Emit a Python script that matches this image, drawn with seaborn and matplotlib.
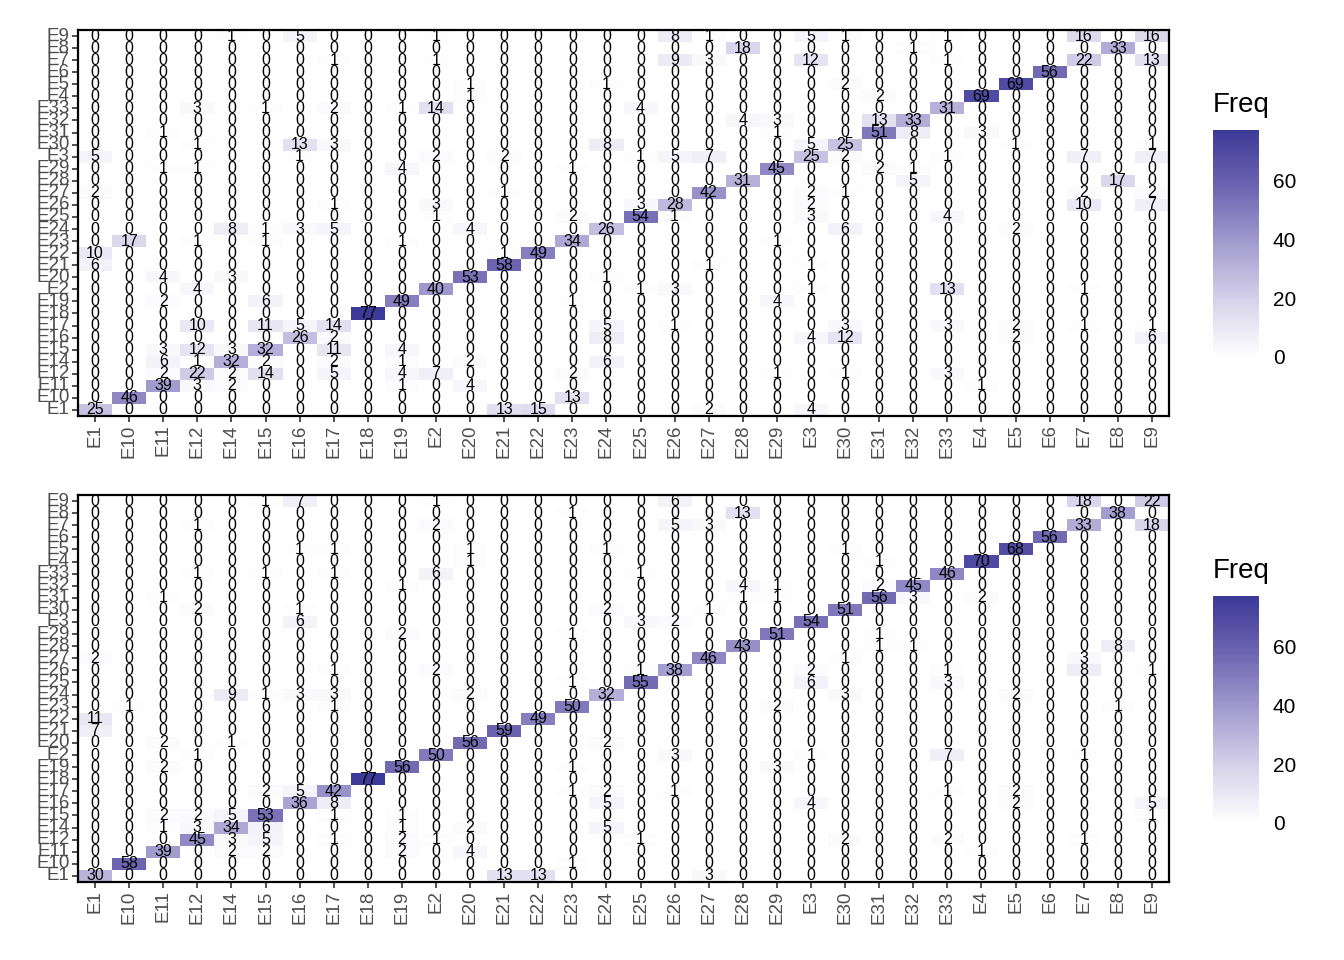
import numpy as np
import pandas as pd
import seaborn as sns
import matplotlib.pyplot as plt
from matplotlib.colors import LinearSegmentedColormap

# class labels, in the order they appear on the x axis
labels = ["E1", "E10", "E11", "E12", "E14", "E15", "E16", "E17", "E18", "E19",
          "E2", "E20", "E21", "E22", "E23", "E24", "E25", "E26", "E27", "E28",
          "E29", "E3", "E30", "E31", "E32", "E33", "E4", "E5", "E6", "E7",
          "E8", "E9"]
# rows are drawn top -> bottom (E9 at the top, E1 at the bottom)
row_labels = labels[::-1]

# top panel, one list per row (top -> bottom), columns E1 ... E9
top_counts = [
    [0, 0, 0, 0, 1, 0, 5, 0, 0, 0, 1, 0, 0, 0, 0, 0, 0, 8, 1, 0, 0, 5, 1, 0, 0, 1, 0, 0, 0, 16, 0, 16],
    [0, 0, 0, 0, 0, 0, 0, 0, 0, 0, 0, 0, 0, 0, 0, 0, 0, 0, 0, 18, 0, 0, 0, 0, 1, 0, 0, 0, 0, 0, 33, 0],
    [0, 0, 0, 0, 0, 0, 0, 1, 0, 0, 1, 0, 0, 0, 0, 0, 0, 9, 3, 0, 0, 12, 0, 0, 0, 1, 0, 0, 0, 22, 0, 13],
    [0, 0, 0, 0, 0, 0, 0, 0, 0, 0, 0, 0, 0, 0, 0, 0, 0, 0, 0, 0, 0, 0, 0, 0, 0, 0, 0, 0, 56, 0, 0, 0],
    [0, 0, 0, 0, 0, 0, 0, 0, 0, 0, 0, 1, 0, 0, 0, 1, 0, 0, 0, 0, 0, 0, 2, 0, 0, 0, 0, 69, 0, 0, 0, 0],
    [0, 0, 0, 0, 0, 0, 0, 0, 0, 0, 0, 1, 0, 0, 0, 0, 0, 0, 0, 0, 0, 0, 0, 2, 0, 0, 69, 0, 0, 0, 0, 0],
    [0, 0, 0, 3, 0, 1, 0, 2, 0, 1, 14, 0, 0, 0, 0, 0, 4, 0, 0, 0, 0, 0, 0, 0, 0, 31, 0, 0, 0, 0, 0, 0],
    [0, 0, 0, 0, 0, 0, 0, 0, 0, 0, 0, 0, 0, 0, 0, 0, 0, 0, 0, 4, 3, 0, 0, 13, 33, 0, 0, 0, 0, 0, 0, 0],
    [0, 0, 1, 0, 0, 0, 0, 0, 0, 0, 0, 0, 0, 0, 0, 0, 0, 0, 0, 0, 1, 0, 0, 51, 8, 0, 3, 0, 0, 0, 0, 0],
    [0, 0, 0, 1, 0, 0, 13, 3, 0, 0, 0, 0, 0, 0, 0, 8, 0, 0, 0, 0, 0, 5, 25, 0, 0, 0, 0, 1, 0, 0, 0, 1],
    [5, 0, 0, 0, 0, 0, 1, 0, 0, 0, 2, 0, 2, 0, 0, 0, 1, 5, 7, 0, 0, 25, 2, 0, 0, 1, 0, 0, 0, 7, 0, 7],
    [0, 0, 1, 1, 0, 0, 0, 0, 0, 4, 0, 0, 0, 0, 1, 0, 0, 0, 0, 0, 45, 0, 0, 2, 1, 0, 0, 0, 0, 0, 0, 0],
    [0, 0, 0, 0, 0, 0, 0, 0, 0, 0, 0, 0, 0, 0, 0, 0, 0, 0, 0, 31, 0, 0, 0, 0, 5, 0, 0, 0, 0, 0, 17, 0],
    [2, 0, 0, 0, 0, 0, 0, 0, 0, 0, 0, 0, 1, 0, 0, 0, 0, 0, 42, 0, 0, 2, 1, 0, 0, 0, 0, 0, 0, 2, 0, 2],
    [0, 0, 0, 0, 0, 0, 0, 1, 0, 0, 3, 0, 0, 0, 0, 0, 3, 28, 0, 0, 0, 2, 0, 0, 0, 0, 0, 0, 0, 10, 0, 7],
    [0, 0, 0, 0, 0, 0, 0, 0, 0, 0, 1, 0, 0, 0, 2, 0, 54, 1, 0, 0, 0, 3, 0, 0, 0, 4, 0, 0, 0, 0, 0, 0],
    [0, 0, 0, 0, 8, 1, 3, 5, 0, 0, 0, 4, 0, 0, 0, 26, 0, 0, 0, 0, 0, 0, 6, 0, 0, 0, 0, 2, 0, 0, 0, 0],
    [0, 17, 0, 1, 0, 1, 0, 0, 0, 1, 0, 0, 0, 0, 34, 0, 0, 0, 0, 0, 1, 0, 0, 0, 0, 0, 0, 0, 0, 0, 0, 0],
    [10, 0, 0, 0, 0, 0, 0, 0, 0, 0, 0, 0, 1, 49, 0, 0, 0, 0, 0, 0, 0, 0, 0, 0, 0, 0, 0, 0, 0, 0, 0, 0],
    [6, 0, 0, 0, 0, 0, 0, 0, 0, 0, 0, 0, 58, 0, 0, 0, 0, 0, 1, 0, 0, 1, 0, 0, 0, 0, 0, 0, 0, 0, 0, 0],
    [0, 0, 4, 0, 3, 0, 0, 0, 0, 0, 0, 53, 0, 0, 0, 1, 0, 0, 0, 0, 0, 0, 0, 0, 0, 0, 0, 0, 0, 0, 0, 0],
    [0, 0, 0, 4, 0, 0, 0, 0, 0, 0, 40, 0, 0, 0, 0, 0, 1, 3, 0, 0, 0, 1, 0, 0, 0, 13, 0, 0, 0, 1, 0, 0],
    [0, 0, 2, 0, 0, 6, 0, 0, 0, 49, 0, 0, 0, 0, 1, 0, 0, 0, 0, 0, 4, 0, 0, 0, 0, 0, 0, 0, 0, 0, 0, 0],
    [0, 0, 0, 0, 0, 0, 0, 0, 77, 0, 0, 0, 0, 0, 0, 0, 0, 0, 0, 0, 0, 0, 0, 0, 0, 0, 0, 0, 0, 0, 0, 0],
    [0, 0, 0, 10, 0, 11, 5, 14, 0, 0, 0, 0, 0, 0, 0, 5, 0, 1, 0, 0, 0, 0, 3, 0, 0, 3, 0, 2, 0, 1, 0, 1],
    [0, 0, 0, 0, 0, 0, 26, 2, 0, 0, 0, 0, 0, 0, 0, 8, 0, 0, 0, 0, 0, 4, 12, 0, 0, 0, 0, 2, 0, 0, 0, 6],
    [0, 0, 3, 12, 3, 32, 0, 11, 0, 4, 0, 0, 0, 0, 0, 0, 0, 0, 0, 0, 0, 0, 0, 0, 0, 0, 0, 0, 0, 0, 0, 0],
    [0, 0, 6, 1, 32, 2, 0, 2, 0, 1, 0, 2, 0, 0, 0, 6, 0, 0, 0, 0, 0, 0, 0, 0, 0, 0, 0, 0, 0, 0, 0, 0],
    [0, 0, 2, 22, 2, 14, 0, 5, 0, 4, 7, 0, 0, 0, 2, 0, 0, 0, 0, 0, 1, 0, 1, 0, 0, 3, 0, 0, 0, 0, 0, 0],
    [0, 0, 39, 3, 2, 0, 0, 0, 0, 1, 0, 4, 0, 0, 0, 0, 0, 0, 0, 0, 0, 0, 0, 0, 0, 0, 1, 0, 0, 0, 0, 0],
    [0, 46, 0, 0, 0, 0, 0, 0, 0, 0, 0, 0, 0, 0, 13, 0, 0, 0, 0, 0, 0, 0, 0, 0, 0, 0, 0, 0, 0, 0, 0, 0],
    [25, 0, 0, 0, 0, 0, 0, 0, 0, 0, 0, 0, 13, 15, 0, 0, 0, 0, 2, 0, 0, 4, 0, 0, 0, 0, 0, 0, 0, 0, 0, 0],
]

# bottom panel
bottom_counts = [
    [0, 0, 0, 0, 0, 1, 7, 0, 0, 0, 1, 0, 0, 0, 0, 0, 0, 6, 0, 0, 0, 0, 0, 0, 0, 0, 0, 0, 0, 18, 0, 22],
    [0, 0, 0, 0, 0, 0, 0, 0, 0, 0, 0, 0, 0, 0, 1, 0, 0, 0, 0, 13, 0, 0, 0, 0, 0, 0, 0, 0, 0, 0, 38, 0],
    [0, 0, 0, 1, 0, 0, 0, 0, 0, 0, 2, 0, 0, 0, 0, 0, 0, 5, 3, 0, 0, 0, 0, 0, 0, 0, 0, 0, 0, 33, 0, 18],
    [0, 0, 0, 0, 0, 0, 0, 0, 0, 0, 0, 0, 0, 0, 0, 0, 0, 0, 0, 0, 0, 0, 0, 0, 0, 0, 0, 0, 56, 0, 0, 0],
    [0, 0, 0, 0, 0, 0, 1, 1, 0, 0, 0, 1, 0, 0, 0, 1, 0, 0, 0, 0, 0, 0, 1, 0, 0, 0, 0, 68, 0, 0, 0, 0],
    [0, 0, 0, 0, 0, 0, 0, 0, 0, 0, 0, 1, 0, 0, 0, 0, 0, 0, 0, 0, 0, 0, 0, 1, 0, 0, 70, 0, 0, 0, 0, 0],
    [0, 0, 0, 1, 0, 1, 0, 1, 0, 0, 6, 0, 0, 0, 0, 0, 1, 0, 0, 0, 0, 0, 0, 0, 0, 46, 0, 0, 0, 0, 0, 0],
    [0, 0, 0, 0, 0, 0, 0, 0, 0, 1, 0, 0, 0, 0, 0, 0, 0, 0, 0, 4, 1, 0, 0, 2, 45, 0, 0, 0, 0, 0, 0, 0],
    [0, 0, 1, 0, 0, 0, 0, 0, 0, 0, 0, 0, 0, 0, 0, 0, 0, 0, 0, 1, 1, 0, 0, 56, 3, 0, 2, 0, 0, 0, 0, 0],
    [0, 0, 0, 2, 0, 0, 1, 0, 0, 0, 0, 0, 0, 0, 0, 2, 0, 0, 1, 0, 0, 0, 51, 0, 0, 0, 0, 0, 0, 0, 0, 0],
    [0, 0, 0, 0, 0, 0, 6, 0, 0, 0, 0, 0, 0, 0, 0, 0, 3, 2, 0, 0, 0, 54, 0, 0, 0, 0, 0, 0, 0, 0, 0, 0],
    [0, 0, 0, 0, 0, 0, 0, 0, 0, 2, 0, 0, 0, 0, 1, 0, 0, 0, 0, 0, 51, 0, 0, 1, 0, 0, 0, 0, 0, 0, 0, 0],
    [0, 0, 0, 0, 0, 0, 0, 0, 0, 0, 0, 0, 0, 0, 0, 0, 0, 0, 0, 43, 0, 0, 0, 1, 1, 0, 0, 0, 0, 0, 8, 0],
    [2, 0, 0, 0, 0, 0, 0, 0, 0, 0, 0, 0, 0, 0, 0, 0, 0, 0, 46, 0, 0, 0, 1, 0, 0, 0, 0, 0, 0, 3, 0, 0],
    [0, 0, 0, 0, 0, 0, 0, 1, 0, 0, 2, 0, 0, 0, 0, 0, 1, 38, 0, 0, 0, 2, 0, 0, 0, 1, 0, 0, 0, 8, 0, 1],
    [0, 0, 0, 0, 0, 0, 0, 0, 0, 0, 0, 0, 0, 0, 1, 0, 55, 0, 0, 0, 0, 6, 0, 0, 0, 3, 0, 0, 0, 0, 0, 0],
    [0, 0, 0, 0, 9, 1, 3, 3, 0, 0, 0, 2, 0, 0, 0, 32, 0, 0, 0, 0, 0, 0, 3, 0, 0, 0, 0, 2, 0, 0, 0, 0],
    [0, 1, 0, 0, 0, 0, 0, 1, 0, 0, 0, 0, 0, 0, 50, 0, 0, 0, 0, 0, 2, 0, 0, 0, 0, 0, 0, 0, 0, 0, 1, 0],
    [11, 0, 0, 0, 0, 0, 0, 0, 0, 0, 0, 0, 0, 49, 0, 0, 0, 0, 0, 0, 0, 0, 0, 0, 0, 0, 0, 0, 0, 0, 0, 0],
    [7, 0, 0, 0, 0, 0, 0, 0, 0, 0, 0, 0, 59, 0, 0, 0, 0, 0, 0, 0, 0, 0, 0, 0, 0, 0, 0, 0, 0, 0, 0, 0],
    [0, 0, 2, 0, 1, 0, 0, 0, 0, 0, 0, 56, 0, 0, 0, 2, 0, 0, 0, 0, 0, 0, 0, 0, 0, 0, 0, 0, 0, 0, 0, 0],
    [0, 0, 0, 1, 0, 0, 0, 0, 0, 0, 50, 0, 0, 0, 0, 0, 0, 3, 0, 0, 0, 1, 0, 0, 0, 7, 0, 0, 0, 1, 0, 0],
    [0, 0, 2, 0, 0, 0, 0, 0, 0, 56, 0, 0, 0, 0, 1, 0, 0, 0, 0, 0, 3, 0, 0, 0, 0, 0, 0, 0, 0, 0, 0, 0],
    [0, 0, 0, 0, 0, 0, 0, 0, 77, 0, 0, 0, 0, 0, 0, 0, 0, 0, 0, 0, 0, 0, 0, 0, 0, 0, 0, 0, 0, 0, 0, 0],
    [0, 0, 0, 0, 0, 2, 5, 42, 0, 0, 0, 0, 0, 0, 1, 2, 0, 1, 0, 0, 0, 0, 0, 0, 0, 1, 0, 2, 0, 0, 0, 0],
    [0, 0, 0, 0, 0, 0, 36, 8, 0, 0, 0, 0, 0, 0, 0, 5, 0, 0, 0, 0, 0, 4, 0, 0, 0, 0, 0, 2, 0, 0, 0, 5],
    [0, 0, 2, 2, 5, 53, 0, 1, 0, 1, 0, 0, 0, 0, 0, 0, 0, 0, 0, 0, 0, 0, 0, 0, 0, 0, 0, 0, 0, 0, 0, 1],
    [0, 0, 1, 3, 34, 6, 0, 0, 0, 1, 0, 2, 0, 0, 0, 5, 0, 0, 0, 0, 0, 0, 0, 0, 0, 0, 0, 0, 0, 0, 0, 0],
    [0, 0, 0, 45, 3, 5, 0, 1, 0, 2, 1, 0, 0, 0, 0, 0, 1, 0, 0, 0, 0, 0, 2, 0, 0, 2, 0, 0, 0, 1, 0, 0],
    [0, 0, 39, 0, 2, 2, 0, 0, 0, 2, 0, 4, 0, 0, 0, 0, 0, 0, 0, 0, 0, 0, 0, 0, 0, 0, 1, 0, 0, 0, 0, 0],
    [0, 58, 0, 0, 0, 0, 0, 0, 0, 0, 0, 0, 0, 0, 1, 0, 0, 0, 0, 0, 0, 0, 0, 0, 0, 0, 0, 0, 0, 0, 0, 0],
    [30, 0, 0, 0, 0, 0, 0, 0, 0, 0, 0, 0, 13, 13, 0, 0, 0, 0, 3, 0, 0, 0, 0, 0, 0, 0, 0, 0, 0, 0, 0, 0],
]

cbar_ticks = [0, 20, 40, 60]
vmax = 77

sns.set_style("white")
plt.rcParams['font.family'] = ['Liberation Sans', 'DejaVu Sans']

# white -> dark slate blue, roughly like ggplot's Lab gradient
cmap = LinearSegmentedColormap.from_list(
    "freq", [(0, "#FFFFFF"), (0.25, "#D6D2EA"), (0.5, "#A39CCF"),
             (0.75, "#6E64B1"), (1, "#3C3A98")])

fig = plt.figure(figsize=(13.44, 9.6), dpi=100)

W, H = 1344, 960
def box(x0, y0, x1, y1):
    return [x0 / W, 1 - y1 / H, (x1 - x0) / W, (y1 - y0) / H]

panels = [
    (top_counts, box(78, 30, 1169, 416), box(1213, 130, 1259, 357), 112),
    (bottom_counts, box(78, 495, 1169, 882), box(1213, 596, 1259, 823), 578),
]

for counts, ax_pos, cax_pos, title_y in panels:
    df = pd.DataFrame(counts, index=row_labels, columns=labels)
    ax = fig.add_axes(ax_pos)
    cax = fig.add_axes(cax_pos)
    sns.heatmap(df, ax=ax, cbar_ax=cax, cmap=cmap, vmin=0, vmax=vmax,
                annot=True, fmt="d", xticklabels=True, yticklabels=True,
                annot_kws={"size": 11.5, "color": "black"},
                cbar_kws={"ticks": cbar_ticks})

    for s in ax.spines.values():
        s.set_visible(True)
        s.set_linewidth(1.6)
        s.set_color("black")
    ax.set_xlabel("")
    ax.set_ylabel("")
    ax.tick_params(axis="x", labelrotation=90, bottom=True)
    ax.tick_params(axis="y", labelrotation=0, left=True)
    ax.tick_params(axis="both", length=4, width=1.2, color="#333333",
                   labelcolor="#4D4D4D", labelsize=13.5, pad=2)

    cax.tick_params(left=True, right=True, direction="in", color="white",
                    length=6.5, width=1, labelsize=15, labelcolor="black", pad=10)
    cax.yaxis.set_ticks_position("both")
    cax.yaxis.set_tick_params(labelleft=False, labelright=True)

    fig.text(1213 / W, 1 - title_y / H, "Freq", fontsize=20, va="baseline",
             ha="left", color="black")

fig.savefig("out.png", dpi=100)
